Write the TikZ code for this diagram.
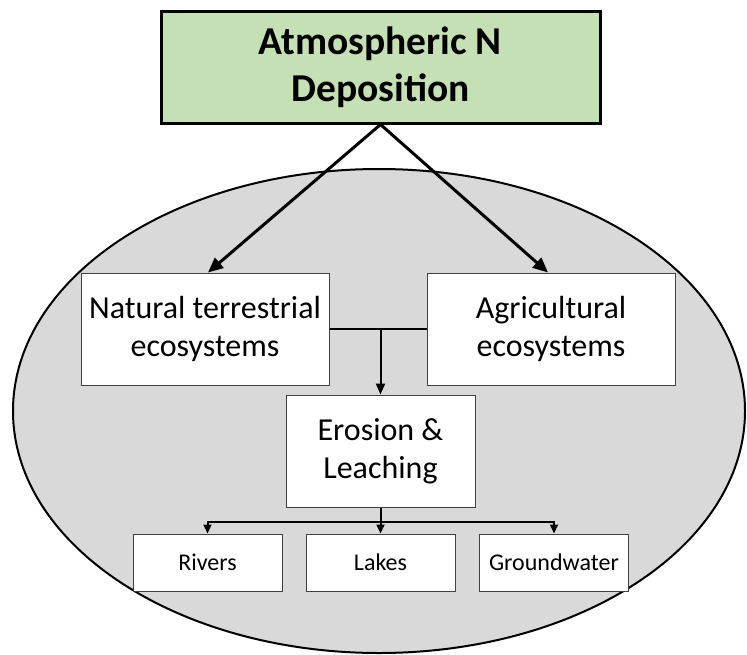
\documentclass[tikz,border=0pt]{standalone}
\usepackage{fontspec}
\setmainfont{Carlito}
\usetikzlibrary{arrows.meta,calc}
\definecolor{boxgreen}{HTML}{C5E0B4}
\definecolor{ellgray}{HTML}{D9D9D9}
\definecolor{boxline}{HTML}{404040}
\begin{document}
\begin{tikzpicture}[x=1pt,y=-1pt,
  bigbox/.style={draw=boxline,line width=1pt,fill=white,align=center,inner sep=0pt,
    minimum height=112pt,font=\fontsize{32}{38}\selectfont},
  smallbox/.style={draw=boxline,line width=1pt,fill=white,align=center,inner sep=0pt,
    minimum width=149pt,minimum height=57pt,font=\fontsize{24}{28}\selectfont},
  titlebox/.style={draw=black,line width=3pt,fill=boxgreen,align=center,inner sep=0pt,
    minimum width=439pt,minimum height=112pt,font=\bfseries\fontsize{39.5}{47}\selectfont},
  bigarrow/.style={line width=3pt,-{Triangle[length=15pt,width=13pt]}},
  midarrow/.style={line width=2pt,-{Triangle[length=11pt,width=9pt]}},
  smallarrow/.style={line width=2pt,-{Triangle[length=9pt,width=8pt]}},
  plainline/.style={line width=2pt}]
\useasboundingbox (0,0) rectangle (747,654);
\path[fill=ellgray,draw=black,line width=2pt] (379,411) ellipse [x radius=366, y radius=242];
\node[titlebox] (top) at (380.5,67) {Atmospheric N\\Deposition};
\node[bigbox,minimum width=248pt] (nat) at (205,329) {Natural terrestrial\\ecosystems};
\node[bigbox,minimum width=248pt] (agr) at (551,329) {Agricultural\\ecosystems};
\node[bigbox,minimum width=189pt] (ero) at (380.5,451) {Erosion \&\\Leaching};
\node[smallbox] (riv) at (207.5,562.5) {Rivers};
\node[smallbox] (lak) at (380.5,562.5) {Lakes};
\node[smallbox] (gw) at (554,562.5) {Groundwater};
\draw[bigarrow] (top.south) -- ([xshift=3pt]nat.north);
\draw[bigarrow] (top.south) -- ([xshift=-3pt]agr.north);
\draw[plainline] (nat.east) -- (agr.west);
\draw[midarrow] (ero.north |- nat.east) -- (ero.north);
\draw[plainline] (ero.south) -- ++(0,14) coordinate (split);
\draw[smallarrow] (split) -| (riv.north);
\draw[smallarrow] (split) -- (lak.north);
\draw[smallarrow] (split) -| (gw.north);
\end{tikzpicture}
\end{document}
